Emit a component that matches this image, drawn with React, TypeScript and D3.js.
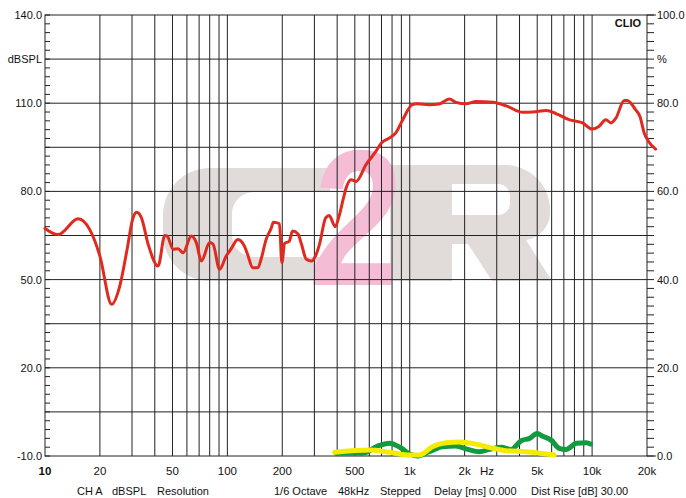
import React from "react";
import * as d3 from "d3";

// response curve (red), left axis dBSPL
const splFreq = [
  10, 11.8, 15.2, 17.6, 20, 23.2, 25.7, 28.2, 30.2, 31.8, 33.8, 36.8, 41.7, 45.4, 46.8, 50.4, 53.7,
  57.1, 63.5, 67.6, 72, 80, 83.5, 90.6, 98.5, 105, 114, 124, 129, 138, 147, 153, 163, 174, 179, 193,
  199, 206, 218, 228, 244, 255, 271, 289, 304, 320, 346, 362, 390, 412, 431, 447, 476, 508, 576, 652,
  700, 776, 838, 916, 1032, 1100, 1279, 1450, 1649, 1793, 2037, 2314, 2858, 3382, 4165, 4731, 5605,
  6371, 7470, 8856, 10000, 10900, 11900, 12700, 13500, 15000, 15600, 17300, 18300, 19300, 20400, 22300,
];
const splDb = [
  67.4, 65.3, 70.7, 67.0, 58.0, 41.6, 47.8, 60.3, 70.4, 72.9, 71.0, 62.0, 54.6, 65.0, 64.8, 60.3, 60.5,
  59.1, 64.8, 62.5, 56.3, 62.6, 62.0, 53.5, 58.0, 60.5, 63.6, 61.4, 58.6, 54.0, 54.0, 56.9, 63.6, 67.5,
  69.5, 69.0, 55.7, 62.3, 63.0, 66.5, 65.5, 62.0, 56.9, 56.3, 58.0, 62.0, 71.0, 71.8, 68.0, 72.1, 77.2,
  81.0, 84.0, 83.4, 89.1, 93.6, 96.5, 98.2, 99.9, 104.4, 109.5, 109.8, 109.5, 109.7, 111.4, 110.3, 109.8,
  110.6, 110.3, 109.1, 106.9, 107.0, 107.5, 106.4, 104.4, 103.3, 101.2, 102.1, 104.4, 103.3, 104.9,
  110.9, 110.9, 107.8, 105.5, 99.9, 97.0, 94.4,
];

// distortion curves, right axis %
const greenFreq = [
  395, 553, 667, 775, 900, 1000, 1100, 1280, 1510, 1790, 2080, 2410, 2740, 3170, 3600, 4080, 4540,
  5000, 5350, 5960, 6600, 7200, 8200, 9300, 9800,
];
const greenPct = [
  0.6, 0.6, 2.27, 2.9, 1.75, 0.45, 0.0, 0.97, 2.1, 2.27, 1.5, 0.97, 1.5, 1.97, 1.5, 3.47, 4.0, 5.1,
  4.5, 3.6, 1.75, 1.5, 2.9, 3.0, 2.7,
];
const yellowFreq = [387, 601, 775, 1000, 1130, 1330, 1580, 1880, 2300, 2860, 3380, 4350, 5600, 6200];
const yellowPct = [0.84, 1.36, 0.84, 0.23, 0.23, 2.1, 3.0, 3.2, 2.7, 1.75, 1.2, 0.97, 0.45, 0.23];

const leftLabels = ["140.0", "110.0", "80.0", "50.0", "20.0", "-10.0"];
const leftLabelValues = [140, 110, 80, 50, 20, -10];
const rightLabels = ["100.0", "80.0", "60.0", "40.0", "20.0", "0.0"];
const rightLabelValues = [100, 80, 60, 40, 20, 0];
const xLabels = ["10", "20", "50", "100", "200", "500", "1k", "2k", "5k", "10k", "20k"];
const xLabelValues = [10, 20, 50, 100, 200, 500, 1000, 2000, 5000, 10000, 20000];
const footer = [
  { t: "CH A", x: 77 },
  { t: "dBSPL", x: 112 },
  { t: "Resolution", x: 157 },
  { t: "1/6 Octave", x: 274 },
  { t: "48kHz", x: 338 },
  { t: "Stepped", x: 380 },
  { t: "Delay [ms] 0.000", x: 434 },
  { t: "Dist Rise [dB] 30.00", x: 531 },
];

const W = 686;
const H = 498;
const left = 45;
const right = 647;
const top = 15;
const bottom = 456;

export default function App() {
  const x = d3.scaleLog().domain([10, 20000]).range([left, right]);
  const y = d3.scaleLinear().domain([-10, 140]).range([bottom, top]);
  const yr = d3.scaleLinear().domain([0, 100]).range([bottom, top]);

  const gridFreqs: number[] = [];
  for (const dec of [10, 100, 1000, 10000]) {
    for (let m = 1; m <= 9; m++) {
      const f = dec * m;
      if (f > 10 && f < 20000) gridFreqs.push(f);
    }
  }
  const hGrid = d3.range(5, 140, 15);
  const minor = d3.range(-10, 141, 3);

  const redLine = d3
    .line<number>()
    .x((_, i) => x(splFreq[i]))
    .y((d) => y(d))
    .curve(d3.curveMonotoneX);
  const greenLine = d3
    .line<number>()
    .x((_, i) => x(greenFreq[i]))
    .y((d) => yr(d))
    .curve(d3.curveMonotoneX);
  const yellowLine = d3
    .line<number>()
    .x((_, i) => x(yellowFreq[i]))
    .y((d) => yr(d))
    .curve(d3.curveMonotoneX);

  const font = "'Liberation Sans', Arial, sans-serif";

  return (
    <svg
      width={W}
      height={H}
      style={{ position: "absolute", left: 0, top: 0, background: "#fff" }}
      fontFamily={font}
      fontSize={11}
    >
      {/* watermark */}
      <g>
        <path
          d="M330,168 H210 A47,47 0 0 0 163,215 V234 A47,47 0 0 0 210,281 H330 V257 H254 A22,22 0 0 1 232,235 V214 A22,22 0 0 1 254,192 H330 Z"
          fill="#e1dcda"
        />
        <path
          fillRule="evenodd"
          d="M390,165 H505 A45,45 0 0 1 550,210 V214 A28,28 0 0 1 526,240 L552,281 H492 L468,244 H452 V281 H390 Z M452,184 V215 H498 A12,12 0 0 0 510,203 V196 A12,12 0 0 0 498,184 Z"
          fill="#e1dcda"
        />
        <text
          transform="translate(353,285) scale(0.86,1.03) skewX(-4)"
          textAnchor="middle"
          fontSize={188}
          fontWeight="bold"
          fill="#f4bcd5"
        >
          2
        </text>
      </g>

      {/* grid */}
      {gridFreqs.map((f) => (
        <line key={"v" + f} x1={x(f)} x2={x(f)} y1={top} y2={bottom} stroke="#222" strokeWidth={1} />
      ))}
      {hGrid.map((v) => (
        <line key={"h" + v} x1={left} x2={right} y1={y(v)} y2={y(v)} stroke="#222" strokeWidth={1} />
      ))}
      {minor.map((v) => (
        <g key={"t" + v}>
          <line x1={left} x2={left + 5} y1={y(v)} y2={y(v)} stroke="#222" />
          <line x1={right} x2={right + 7} y1={y(v)} y2={y(v)} stroke="#222" />
        </g>
      ))}
      <line x1={right} x2={right + 9} y1={top} y2={top} stroke="#222" />
      <line x1={right} x2={right + 9} y1={bottom} y2={bottom} stroke="#222" />
      <rect x={left} y={top} width={right - left} height={bottom - top} fill="none" stroke="#222" />

      {/* curves */}
      <path d={greenLine(greenPct) ?? ""} fill="none" stroke="#119a3e" strokeWidth={5} strokeLinejoin="round" strokeLinecap="round" />
      <path d={yellowLine(yellowPct) ?? ""} fill="none" stroke="#f4ec00" strokeWidth={5} strokeLinejoin="round" strokeLinecap="round" />
      <path d={redLine(splDb) ?? ""} fill="none" stroke="#e02a1f" strokeWidth={3} strokeLinejoin="round" strokeLinecap="round" />

      {/* left axis labels */}
      {leftLabels.map((t, i) => (
        <text key={t} x={left - 3} y={y(leftLabelValues[i]) + 4} textAnchor="end" fill="#111">
          {t}
        </text>
      ))}
      <text x={left - 3} y={y(125) + 4} textAnchor="end" fill="#111">
        dBSPL
      </text>

      {/* right axis labels */}
      {rightLabels.map((t, i) => (
        <text key={"r" + t} x={right + 10} y={yr(rightLabelValues[i]) + 4} fill="#111">
          {t}
        </text>
      ))}
      <text x={right + 10} y={y(125) + 4} fill="#111">
        %
      </text>

      {/* x labels */}
      {xLabels.map((t, i) => (
        <text
          key={"x" + t}
          x={x(xLabelValues[i])}
          y={474.5}
          textAnchor="middle"
          fill="#111"
          fontWeight={i === 0 ? "bold" : "normal"}
          fontSize={11.5}
        >
          {t}
        </text>
      ))}
      <text x={487} y={474.5} textAnchor="middle" fill="#111" fontSize={11.5}>
        Hz
      </text>

      <text x={641} y={26.5} textAnchor="end" fontWeight="bold" fill="#111">
        CLIO
      </text>

      {footer.map((f) => (
        <text key={f.t} x={f.x} y={494.5} fill="#111">
          {f.t}
        </text>
      ))}
    </svg>
  );
}
